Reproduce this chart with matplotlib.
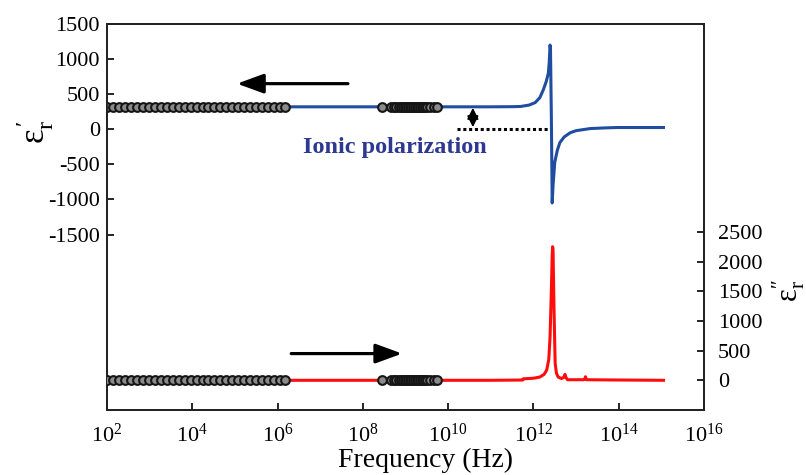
import matplotlib
matplotlib.use("Agg")
import matplotlib.pyplot as plt
import numpy as np

plt.rcParams['font.family'] = ['Liberation Serif', 'DejaVu Serif']
plt.rcParams['mathtext.fontset'] = 'stix'

# ---------------- data (log10 of frequency in Hz) ----------------
# measured low-frequency points (markers)
marker_logf = [2.00, 2.14, 2.28, 2.42, 2.56, 2.70, 2.84, 2.98, 3.12, 3.26,
               3.40, 3.54, 3.68, 3.82, 3.96, 4.10, 4.24, 4.38, 4.52, 4.66,
               4.80, 4.94, 5.08, 5.22, 5.36, 5.50, 5.64, 5.78, 5.92, 6.06,
               6.17,
               8.45,
               8.66, 8.72, 8.78, 8.84, 8.90, 8.94, 8.98, 9.02, 9.06, 9.10,
               9.14, 9.18, 9.22, 9.26, 9.30, 9.34, 9.38, 9.42, 9.46, 9.50,
               9.58, 9.66, 9.73]
marker_eps_real = [320] * 31 + [320] + [320] * 23
marker_eps_imag = [0] * 31 + [0] + [0] * 23

# simulated real permittivity (blue)
sim_logf_real = [2.0, 6.17, 8.0, 10.0, 11.0, 11.5, 11.7, 11.9, 12.04, 12.15,
                 12.23, 12.30, 12.35, 12.37, 12.39, 12.40, 12.42, 12.44, 12.46,
                 12.50, 12.56, 12.62, 12.72, 12.86, 13.0, 13.33, 13.7, 13.96,
                 14.5, 15.05]
sim_eps_real = [320, 320, 320, 320, 320, 322, 325, 345, 380, 450,
                560, 680, 800, 950, 1200, 1150, 200, -1050, -800,
                -470, -300, -190, -110, -50, -20, 10, 20, 25,
                25, 25]

# simulated imaginary permittivity (red)
sim_logf_imag = [2.0, 6.17, 8.45, 9.73, 11.0, 11.75, 11.76, 12.0, 12.15, 12.25,
                 12.31, 12.36, 12.39, 12.42, 12.44, 12.45, 12.46, 12.48, 12.50,
                 12.51, 12.54, 12.58, 12.66, 12.71, 12.74, 12.76, 12.80, 13.18,
                 13.21, 13.22, 13.24, 14.0, 15.05]
sim_eps_imag = [0, 0, 0, 0, 0, 5, 25, 35, 55, 100,
                170, 350, 730, 1500, 2100, 2250, 2200, 1300, 600,
                280, 120, 55, 30, 50, 100, 50, 10, 10,
                30, 60, 10, 5, 0]

left_ticks = [-1500, -1000, -500, 0, 500, 1000, 1500]
right_ticks = [0, 500, 1000, 1500, 2000, 2500]
x_tick_exps = [2, 4, 6, 8, 10, 12, 14, 16]

# ---------------- figure ----------------
fig = plt.figure(figsize=(8.06, 4.75), dpi=100)
ax = fig.add_axes([107/806, 1-410/475, 597/806, 386/475])
ax2 = ax.twinx()

blue = '#1f4ea0'
red = '#ff0d0d'

mk = dict(ls='none', marker='o', ms=6.3, mfc='#8a8a8a', mec='#151515',
          mew=1.5, zorder=3)

f_mark = [10.0**e for e in marker_logf]
ax.plot([10.0**e for e in sim_logf_real], sim_eps_real, color=blue, lw=2.2, zorder=2)
ax.plot(f_mark, marker_eps_real, **mk)

ax2.plot([10.0**e for e in sim_logf_imag], sim_eps_imag, color=red, lw=2.2, zorder=2)
ax2.plot(f_mark, marker_eps_imag, **mk)

ax.set_xscale('log')
ax.set_xlim(1e2, 1e16)
ax.set_ylim(-4000, 1500)
ax2.set_ylim(-500, 6000)

ax.set_xticks([10.0**e for e in x_tick_exps])
ax.set_xticklabels([r'$\mathregular{10^{%d}}$' % e for e in x_tick_exps])
ax.xaxis.set_minor_locator(matplotlib.ticker.NullLocator())
ax.set_yticks(left_ticks)
ax.set_yticklabels([str(v) for v in left_ticks])
ax2.set_yticks(right_ticks)
ax2.set_yticklabels([str(v) for v in right_ticks])

ax.tick_params(axis='x', direction='in', length=5, width=1.2, labelsize=16, pad=10, top=False)
ax.tick_params(axis='y', direction='in', length=5, width=1.2, labelsize=16, pad=5)
ax2.tick_params(axis='y', direction='in', length=5, width=1.2, labelsize=16, pad=10)

for a in (ax, ax2):
    for s in a.spines.values():
        s.set_linewidth(1.3)
        s.set_color('#222222')

ax.set_xlabel('Frequency (Hz)', fontsize=20, labelpad=0)
ax.xaxis.set_label_coords((426-107)/597, -0.098)
ax.xaxis.label.set_va('top')

fig.text(35/806, 1-132/475, r"$\mathregular{\varepsilon_r^{\,\prime}}$", rotation=90,
         ha='center', va='center', fontsize=25)
fig.text(789/806, 1-290/475, r"$\mathregular{\varepsilon_r^{\prime\prime}}$", rotation=90,
         ha='center', va='center', fontsize=22)

# annotations
arrow_style = '-|>,head_length=0.9,head_width=0.33'
ax.annotate('', xy=(10**5.05, 650), xytext=(10**7.65, 650),
            arrowprops=dict(arrowstyle=arrow_style, color='black', lw=2.3,
                            mutation_scale=18, shrinkA=0, shrinkB=0))
ax2.annotate('', xy=(10**8.92, 450), xytext=(10**6.32, 450),
             arrowprops=dict(arrowstyle=arrow_style, color='black', lw=2.3,
                             mutation_scale=18, shrinkA=0, shrinkB=0))
ax.plot([10**10.21, 10**12.34], [5, 5], color='black', lw=2.2,
        ls=(0, (1, 0.9)), zorder=1)
ax.annotate('', xy=(10**10.58, 305), xytext=(10**10.58, 30),
            arrowprops=dict(arrowstyle='<|-|>,head_length=0.55,head_width=0.28',
                            color='black', lw=1.3, mutation_scale=12,
                            shrinkA=0, shrinkB=0))
ax.text(10**6.6, -340, 'Ionic polarization', color='#2d3990', fontsize=17.5,
        fontweight='bold', ha='left', va='baseline')

fig.savefig('out.png', dpi=100)
